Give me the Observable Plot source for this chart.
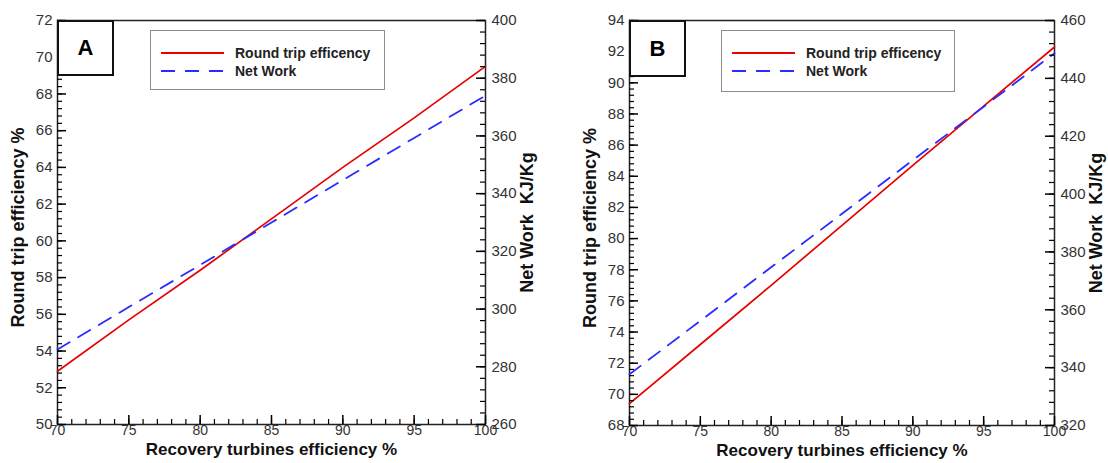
<!DOCTYPE html>
<html><head><meta charset="utf-8">
<script src="https://cdn.jsdelivr.net/npm/d3@7"></script>
<script src="https://cdn.jsdelivr.net/npm/@observablehq/plot@0.6"></script>
<style>
body{margin:0;background:#fff;font-family:"Liberation Sans",Arial,sans-serif;}
#wrap{position:relative;width:1108px;height:463px;overflow:hidden;background:#fff;}
.tag{position:absolute;border:2px solid #111;background:#fff;font:bold 22px "Liberation Sans",Arial,sans-serif;display:flex;align-items:center;justify-content:center;box-sizing:border-box;color:#000;}
.legend{position:absolute;border:1.5px solid #8c8c8c;background:#fff;box-sizing:border-box;}
</style>
</head><body>
<div id="wrap"></div>
<script>
// ---- data ----
const efficiency = [70, 75, 80, 85, 90, 95, 100];
const roundTripA = [52.9, 55.7, 58.4, 61.2, 64.0, 66.7, 69.5];
const netWorkA   = [286, 300.7, 315.3, 330, 344.7, 359.3, 374];
const roundTripB = [69.4, 73.2, 77.0, 80.85, 84.7, 88.5, 92.3];
const netWorkB   = [337.7, 356.2, 374.7, 393.2, 411.7, 430.2, 448.7];
const xTicks = [70, 75, 80, 85, 90, 95, 100];
const leftTicksA = [50, 52, 54, 56, 58, 60, 62, 64, 66, 68, 70, 72];
const rightTicksA = [260, 280, 300, 320, 340, 360, 380, 400];
const leftTicksB = [68, 70, 72, 74, 76, 78, 80, 82, 84, 86, 88, 90, 92, 94];
const rightTicksB = [320, 340, 360, 380, 400, 420, 440, 460];
const seriesNames = ["Round trip efficency", "Net Work"];
const xLabel = "Recovery turbines efficiency %";
const leftLabel = "Round trip efficiency %";
const rightLabel = "Net Work  KJ/Kg";
const panelTags = ["A", "B"];

const RED = "#e60000", BLUE = "#2b2bff";
const FONT = "Liberation Sans, Arial, sans-serif";

function makePanel(cfg) {
  const W = 554, H = 463, MT = 20;
  const fw = W - cfg.ml - cfg.mr, fh = H - MT - cfg.mb;
  const xDomain = [xTicks[0], xTicks[xTicks.length - 1]];
  const leftDomain = [cfg.leftTicks[0], cfg.leftTicks[cfg.leftTicks.length - 1]];
  const rightDomain = [cfg.rightTicks[0], cfg.rightTicks[cfg.rightTicks.length - 1]];
  const toLeft = d3.scaleLinear(rightDomain, leftDomain);
  const rows = efficiency.map((e, i) => ({x: e, rt: cfg.roundTrip[i], nw: toLeft(cfg.netWork[i])}));
  const xMinor = d3.range(xDomain[0], xDomain[1] + 0.001, 1);
  const yMinor = d3.range(leftDomain[0], leftDomain[1] + 0.001, (cfg.leftTicks[1] - cfg.leftTicks[0]) / 5);
  const rStep = (cfg.rightTicks[1] - cfg.rightTicks[0]) / 5;
  const rMinor = d3.range(rightDomain[0], rightDomain[1] + 0.001, rStep).map(toLeft);
  const rMajor = cfg.rightTicks.map(toLeft);
  const lenY = n => n * (leftDomain[1] - leftDomain[0]) / fh;   // px -> y data units
  const lenX = n => n * (xDomain[1] - xDomain[0]) / fw;         // px -> x data units
  return Plot.plot({
    width: W, height: H,
    marginLeft: cfg.ml, marginRight: cfg.mr, marginTop: MT, marginBottom: cfg.mb,
    style: {fontFamily: FONT},
    x: {domain: xDomain},
    y: {domain: leftDomain},
    marks: [
      Plot.frame({stroke: "#222", strokeWidth: 1.5, fill: "none"}),
      Plot.axisX(xTicks, {anchor: "bottom", tickSize: 0, tickPadding: 1, fontSize: 14, fill: "#333", stroke: "none", label: null, tickFormat: d3.format("d")}),
      Plot.axisY(cfg.leftTicks, {anchor: "left", tickSize: 0, tickPadding: 5, fontSize: 15, fill: "#333", stroke: "none", label: null, tickFormat: d3.format("d")}),
      Plot.axisY(rMajor, {anchor: "right", tickSize: 0, tickPadding: 6, fontSize: 15, fill: "#333", stroke: "none", label: null,
        tickFormat: v => String(Math.round(toLeft.invert(v)))}),
      Plot.line(rows, {x: "x", y: "rt", stroke: RED, strokeWidth: 1.7}),
      Plot.line(rows, {x: "x", y: "nw", stroke: BLUE, strokeWidth: 1.8, strokeDasharray: "14,10"}),
      Plot.text([xLabel], {frameAnchor: "bottom", dy: 25, fontSize: 17, fontWeight: "bold", fill: "#111", lineAnchor: "middle", textAnchor: "middle"}),
      Plot.text([leftLabel], {frameAnchor: "left", dx: -39, dy: 5, rotate: -90, fontSize: 18, fontWeight: "bold", fill: "#111", lineAnchor: "middle", textAnchor: "middle"}),
      Plot.text([rightLabel], {frameAnchor: "right", dx: 42, dy: 0, rotate: -90, fontSize: 18, fontWeight: "bold", fill: "#111", lineAnchor: "middle", textAnchor: "middle"}),
      // inward ticks
      Plot.ruleX(xMinor, {x: d => d, y1: leftDomain[0], y2: leftDomain[0] + lenY(5), stroke: "black", strokeWidth: 1.2}),
      Plot.ruleX(xTicks, {x: d => d, y1: leftDomain[0], y2: leftDomain[0] + lenY(9), stroke: "black", strokeWidth: 1.5}),
      Plot.ruleY(yMinor, {y: d => d, x1: xDomain[0], x2: xDomain[0] + lenX(5), stroke: "black", strokeWidth: 1.2}),
      Plot.ruleY(cfg.leftTicks, {y: d => d, x1: xDomain[0], x2: xDomain[0] + lenX(9), stroke: "black", strokeWidth: 1.5}),
      Plot.ruleY(rMinor, {y: d => d, x1: xDomain[1] - lenX(5), x2: xDomain[1], stroke: "black", strokeWidth: 1.2}),
      Plot.ruleY(rMajor, {y: d => d, x1: xDomain[1] - lenX(9), x2: xDomain[1], stroke: "black", strokeWidth: 1.5})
    ]
  });
}

const wrap = document.getElementById("wrap");
const panels = [
  {left: 0, ml: 57, mr: 69, mb: 39, roundTrip: roundTripA, netWork: netWorkA, leftTicks: leftTicksA, rightTicks: rightTicksA,
   tag: {x: 57, y: 20, w: 57, h: 56}, legend: {x: 150, y: 30, w: 235, h: 60}},
  {left: 554, ml: 75, mr: 54, mb: 38, roundTrip: roundTripB, netWork: netWorkB, leftTicks: leftTicksB, rightTicks: rightTicksB,
   tag: {x: 629, y: 20, w: 57, h: 57}, legend: {x: 721, y: 30, w: 234, h: 62}}
];
panels.forEach((p, i) => {
  const chart = makePanel(p);
  chart.style.position = "absolute";
  chart.style.left = p.left + "px";
  chart.style.top = "0px";
  wrap.appendChild(chart);

  const tag = document.createElement("div");
  tag.className = "tag";
  Object.assign(tag.style, {left: p.tag.x + "px", top: p.tag.y + "px", width: p.tag.w + "px", height: p.tag.h + "px"});
  tag.textContent = panelTags[i];
  wrap.appendChild(tag);

  const lg = document.createElement("div");
  lg.className = "legend";
  Object.assign(lg.style, {left: p.legend.x + "px", top: p.legend.y + "px", width: p.legend.w + "px", height: p.legend.h + "px"});
  const ns = "http://www.w3.org/2000/svg";
  const svg = document.createElementNS(ns, "svg");
  svg.setAttribute("width", p.legend.w - 3); svg.setAttribute("height", p.legend.h - 3);
  svg.style.display = "block";
  const styles = [{stroke: RED, dash: null, w: 1.8}, {stroke: BLUE, dash: "14,10", w: 1.8}];
  seriesNames.forEach((name, k) => {
    const yy = 22 + k * 18;
    const ln = document.createElementNS(ns, "line");
    ln.setAttribute("x1", 10); ln.setAttribute("x2", 73);
    ln.setAttribute("y1", yy); ln.setAttribute("y2", yy);
    ln.setAttribute("stroke", styles[k].stroke); ln.setAttribute("stroke-width", styles[k].w);
    if (styles[k].dash) ln.setAttribute("stroke-dasharray", styles[k].dash);
    svg.appendChild(ln);
    const tx = document.createElementNS(ns, "text");
    tx.setAttribute("x", 84); tx.setAttribute("y", yy);
    tx.setAttribute("dy", "0.35em");
    tx.setAttribute("font-family", FONT); tx.setAttribute("font-size", 14); tx.setAttribute("font-weight", "bold");
    tx.setAttribute("fill", "#222");
    tx.textContent = name;
    svg.appendChild(tx);
  });
  lg.appendChild(svg);
  wrap.appendChild(lg);
});
</script>
</body></html>
